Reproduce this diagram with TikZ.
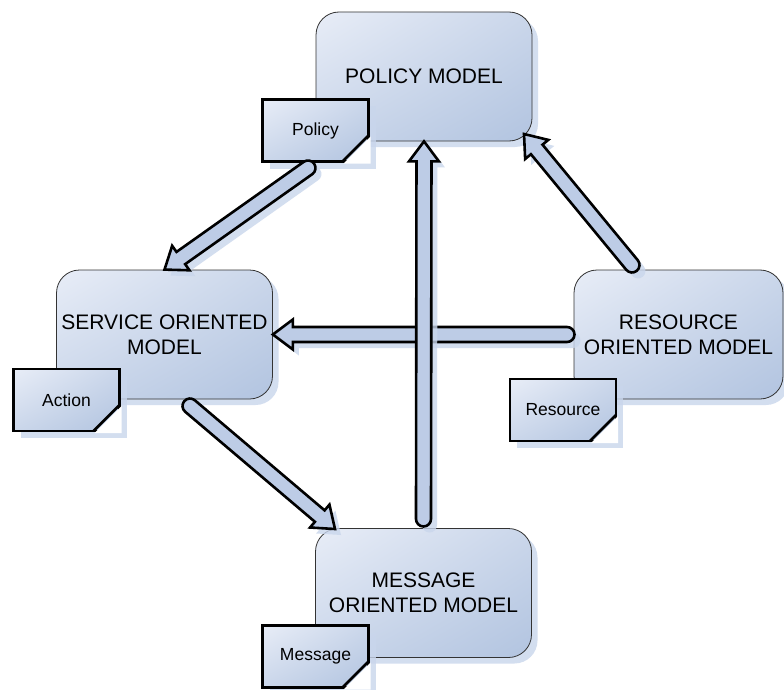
\documentclass[tikz,border=0pt]{standalone}
\usepackage{fontspec}
\setmainfont{Liberation Sans}
\usetikzlibrary{calc,shadows,shadings}

\definecolor{boxlight}{HTML}{E8EDF7}
\definecolor{boxdark}{HTML}{B2C4E0}
\colorlet{boxmid}{boxlight!45!boxdark}
\definecolor{shadowblue}{HTML}{C9D6EC}
\definecolor{arrowfill}{HTML}{BDCCE6}

\tikzset{
  blueshade/.style={upper left=boxlight, upper right=boxmid,
    lower left=boxmid, lower right=boxdark},
  model/.style={draw=black!80, line width=0.8pt, rounded corners=23pt,
    minimum width=216pt, minimum height=129pt, inner sep=0pt, align=center,
    blueshade, font=\fontsize{21}{25}\selectfont,
    drop shadow={shadow xshift=6pt, shadow yshift=-6pt, fill=shadowblue, opacity=0.8}},
  doc/.style={rectangle, draw=black, line width=2.6pt, sharp corners,
    minimum width=106pt, minimum height=62pt, inner sep=0pt, outer sep=0pt,
    blueshade, font=\fontsize{17.5}{21}\selectfont,
    drop shadow={shadow xshift=7pt, shadow yshift=-7pt, fill=shadowblue, opacity=0.8}},
  doccut/.style={fill=white, draw=none},
  docfold/.style={draw=black, line width=2.6pt, line cap=round},
  flowarrow/.style={draw=black, line width=2.6pt, fill=arrowfill,
    drop shadow={shadow xshift=6pt, shadow yshift=-6pt, fill=shadowblue, opacity=0.8}}
}

% cut the lower right corner of a note
\newcommand{\cutcorner}[1]{%
  \fill[doccut] ($(#1.south east)+(2,-25)$) -- ($(#1.south east)+(2,2)$)
    -- ($(#1.south east)+(-25,2)$) -- cycle;
  \draw[docfold] ($(#1.south east)+(0,-26)$) -- ($(#1.south east)+(-26,0)$);
}

% block arrow with a round tail, from #1 to #2
\newcommand{\bigarrow}[2]{%
  \draw[flowarrow] let \p1=($(#2)-(#1)$), \n1={atan2(\y1,\x1)}, \n2={veclen(\x1,\y1)} in
    [shift={(#1)}, rotate=\n1]
    (0pt,-7.5pt) arc[start angle=-90, end angle=-270, radius=7.5pt]
    -- ({\n2-20pt},7.5pt) -- ({\n2-20pt},15pt) -- (\n2,0pt)
    -- ({\n2-20pt},-15pt) -- ({\n2-20pt},-7.5pt) -- cycle;
}

\begin{document}
\begin{tikzpicture}[x=1pt, y=-1pt]
  \fill[white] (0,0) rectangle (784,690);
  \useasboundingbox (0,0) rectangle (784,690);

  % models
  \node[model] (policy)   at (424,76.5)   {POLICY MODEL};
  \node[model] (service)  at (164.5,334.5) {SERVICE ORIENTED\\MODEL};
  \node[model, minimum width=209pt] (resource) at (678.5,334.5) {RESOURCE\\ORIENTED MODEL};
  \node[model] (message)  at (423.5,593)  {MESSAGE\\ORIENTED MODEL};

  % documents
  \node[doc] (policydoc)   at (315.5,130.5) {Policy};
  \node[doc] (actiondoc)   at (66.5,400)    {Action};
  \node[doc] (resourcedoc) at (563,410)     {Resource};
  \node[doc] (messagedoc)  at (315.5,656.5) {Message};
  \foreach \d in {policydoc,actiondoc,resourcedoc,messagedoc}
    {\cutcorner{\d}}

  % arrows
  \coordinate (a1tail) at (308,168);
  \coordinate (a2tail) at (567,334.5);
  \coordinate (a3tail) at (423.5,519);
  \coordinate (a4tail) at (632,265);
  \coordinate (a4tip)  at (524,134);
  \coordinate (a5tail) at (190,406);
  \coordinate (a5tip)  at (335,529);

  \bigarrow{a1tail}{service.north}
  \bigarrow{a4tail}{a4tip}
  \bigarrow{a5tail}{a5tip}
  \bigarrow{a2tail}{service.east}
  \bigarrow{a3tail}{policy.south}
\end{tikzpicture}
\end{document}
